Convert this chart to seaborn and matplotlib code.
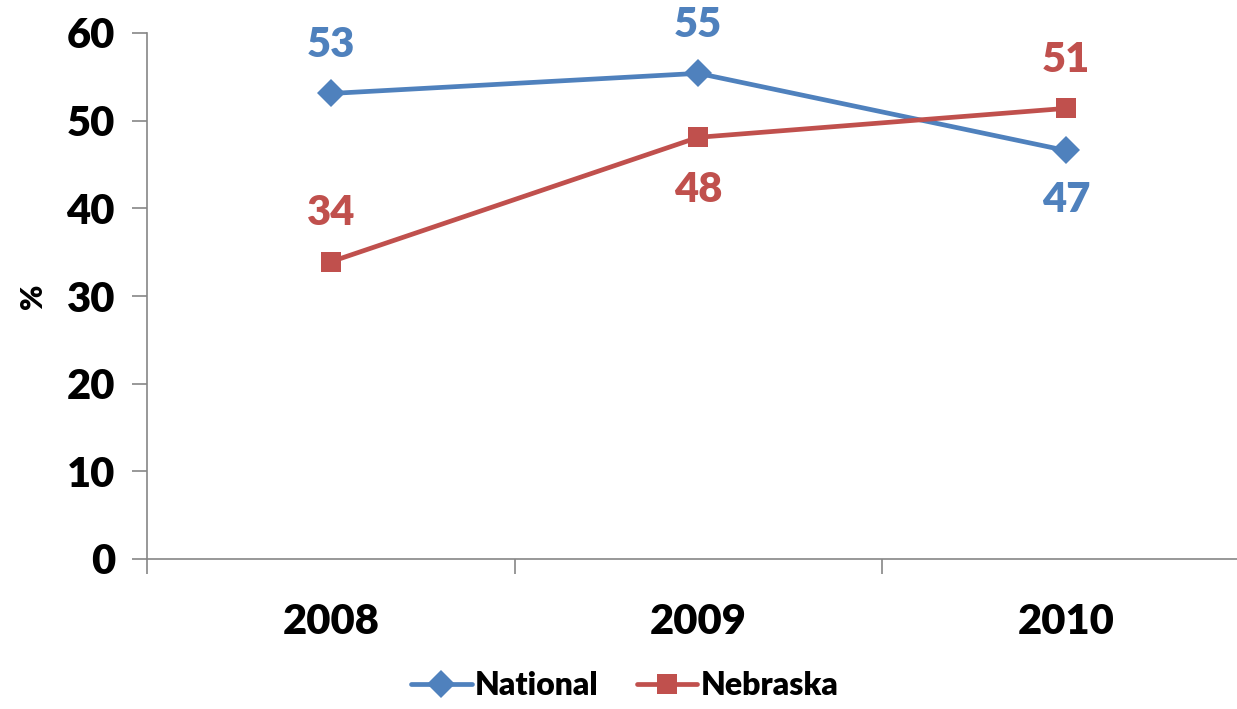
import matplotlib
matplotlib.use('Agg')
import matplotlib.pyplot as plt
import seaborn as sns
import pandas as pd
import numpy as np

# data
years = ['2008', '2009', '2010']
national = [53.1, 55.4, 46.6]
nebraska = [33.9, 48.1, 51.4]
national_labels = ['53', '55', '47']
nebraska_labels = ['34', '48', '51']

colors = {'National': '#4F81BD', 'Nebraska': '#C0504D'}

df = pd.DataFrame({
    'x': list(range(len(years))) * 2,
    'value': national + nebraska,
    'series': ['National'] * 3 + ['Nebraska'] * 3,
})

sns.set_style('white')
plt.rcParams['font.family'] = ['Lato', 'DejaVu Sans']
plt.rcParams['font.weight'] = 'heavy'
plt.rcParams['text.color'] = 'black'
plt.rcParams['xtick.color'] = 'black'
plt.rcParams['ytick.color'] = 'black'
plt.rcParams['axes.labelcolor'] = 'black'

W = 'heavy'

fig = plt.figure(figsize=(12.37, 7.09), dpi=100)
ax = fig.add_axes([147 / 1237, 150 / 709, 1102.5 / 1237, 526 / 709])

sns.lineplot(data=df, x='x', y='value', hue='series', style='series',
             palette=colors, markers={'National': 'D', 'Nebraska': 's'},
             dashes=False, linewidth=3.4, markersize=14, markeredgewidth=0,
             ax=ax, legend=True)

# data labels: blue above except 2010, red below only in 2009
offs_nat = [35, 35, -36]
offs_neb = [35, -38, 35]
for i in range(len(years)):
    ax.annotate(national_labels[i], (i, national[i]), textcoords='offset points',
                xytext=(0, offs_nat[i]), ha='center', va='center',
                fontsize=30, fontweight=W, color=colors['National'])
    ax.annotate(nebraska_labels[i], (i, nebraska[i]), textcoords='offset points',
                xytext=(0, offs_neb[i]), ha='center', va='center',
                fontsize=30, fontweight=W, color=colors['Nebraska'])

ax.set_xlim(-0.5, 2.5)
ax.set_ylim(0, 60)
ax.set_yticks(np.arange(0, 61, 10))
ax.set_xticks(range(len(years)))
ax.set_xticklabels(years)
ax.set_xticks([-0.5, 0.5, 1.5, 2.5], minor=True)

for s in ['top', 'right']:
    ax.spines[s].set_visible(False)
for s in ['left', 'bottom']:
    ax.spines[s].set_color('#868686')
    ax.spines[s].set_linewidth(1.2)

ax.tick_params(axis='y', which='major', left=True, length=11, width=1.2,
               color='#868686', labelcolor='black', pad=12, labelsize=30)
ax.tick_params(axis='x', which='major', bottom=True, length=0, pad=32,
               labelcolor='black', labelsize=30)
ax.tick_params(axis='x', which='minor', bottom=True, length=11, width=1.2,
               color='#868686')
for lab in ax.get_xticklabels() + ax.get_yticklabels():
    lab.set_fontweight(W)

ax.set_xlabel('')
ax.set_ylabel('%', fontsize=22, fontweight=W, color='black', labelpad=14)

handles, labels = ax.get_legend_handles_labels()
ax.get_legend().remove()
leg = fig.legend(handles, labels, loc='lower center', bbox_to_anchor=(0.505, -0.014),
                 ncol=2, frameon=False, handlelength=1.9, borderpad=0.1,
                 handletextpad=0.1, columnspacing=1.2, prop={'weight': W, 'size': 23})
for t in leg.get_texts():
    t.set_color('black')

fig.savefig('out.png', dpi=100)
